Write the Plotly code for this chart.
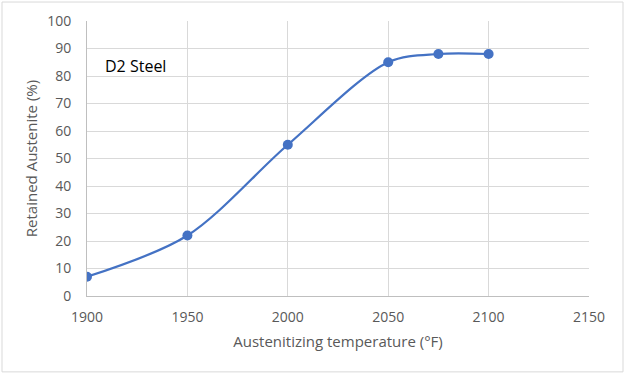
import plotly.graph_objects as go

temps = [1900, 1950, 2000, 2050, 2075, 2100]
retained = [7, 22, 55, 85, 88, 88]
x_ticks = [1900, 1950, 2000, 2050, 2100, 2150]
y_ticks = [0, 10, 20, 30, 40, 50, 60, 70, 80, 90, 100]

fig = go.Figure()
fig.add_trace(go.Scatter(
    x=temps, y=retained, mode="lines+markers",
    line=dict(color="#4472C4", width=2.25, shape="spline", smoothing=0.9),
    marker=dict(color="#4472C4", size=10),
    showlegend=False,
))

font_family = "Open Sans, Liberation Sans, sans-serif"
fig.update_layout(
    width=626, height=375,
    margin=dict(l=87, r=37, t=21, b=79),
    paper_bgcolor="white", plot_bgcolor="white",
    font=dict(family=font_family, color="#595959", size=14),
    xaxis=dict(
        range=[1900, 2150], tickvals=x_ticks, ticktext=[str(v) for v in x_ticks],
        showgrid=True, gridcolor="#d9d9d9", gridwidth=1,
        showline=True, linecolor="#bfbfbf", linewidth=1,
        zeroline=False, ticks="", ticklabelstandoff=8,
        title=dict(text="Austenitizing temperature (°F)", font=dict(size=15, color="#595959"), standoff=11),
    ),
    yaxis=dict(
        range=[0, 100], tickvals=y_ticks,
        showgrid=True, gridcolor="#d9d9d9", gridwidth=1,
        showline=True, linecolor="#bfbfbf", linewidth=1,
        zeroline=False, ticks="", ticklabelstandoff=12,
        title=dict(text="Retained Austenite (%)", font=dict(size=15, color="#595959"), standoff=5),
    ),
    shapes=[
        dict(type="rect", xref="paper", yref="paper",
             x0=-85/502, x1=1 + 34/502, y0=-76/275.5, y1=1 + 19/275.5,
             line=dict(color="#d9d9d9", width=1), fillcolor="rgba(0,0,0,0)", layer="below"),
    ],
    annotations=[
        dict(x=1908, y=83.6, xref="x", yref="y", text="D2 Steel", showarrow=False,
             xanchor="left", yanchor="middle",
             font=dict(family=font_family, size=16, color="#000000")),
    ],
)

fig.write_html("out.html", config={"displayModeBar": False},
               post_script="document.body.style.margin='0';document.body.style.overflow='hidden';")
